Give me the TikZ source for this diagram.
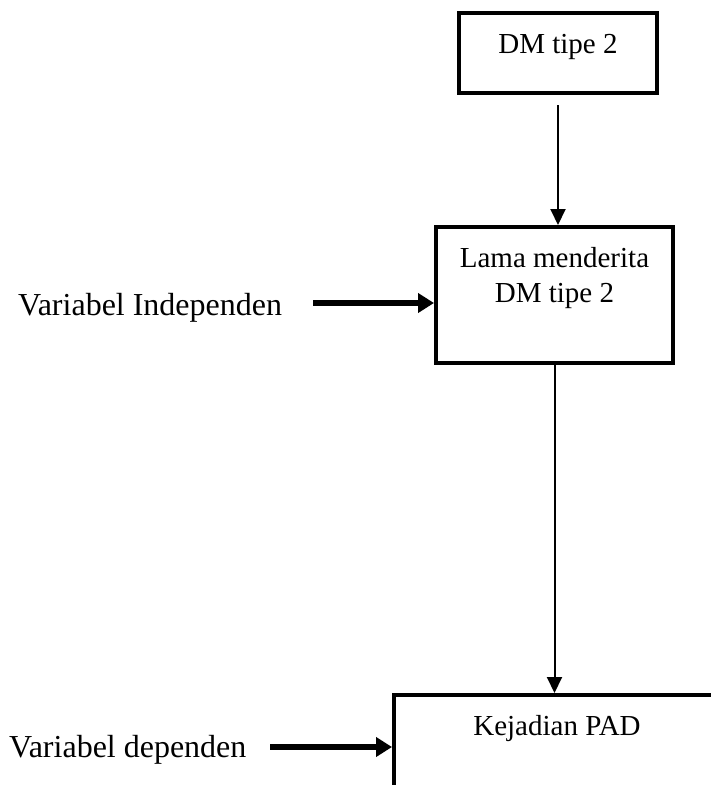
\documentclass[tikz,border=0pt]{standalone}
\usepackage{fontspec}
\setmainfont{Liberation Serif}
\usetikzlibrary{arrows.meta,positioning}

\tikzset{
	box/.style={draw, line width=4pt, rectangle, inner sep=0pt},
	boxtext/.style={font=\fontsize{29}{35}\selectfont, align=center, inner sep=0pt},
	vartext/.style={font=\fontsize{32}{38}\selectfont, inner sep=0pt},
	flow/.style={line width=2pt, -{Triangle[length=16pt,width=15pt]}},
	bigflow/.style={line width=6pt, -{Triangle[length=16pt,width=19pt]}},
}

\begin{document}
\begin{tikzpicture}[x=1pt,y=-1pt]
	\clip (0,0) rectangle (711,785);

	\node[box, minimum width=198, minimum height=80] (dm) at (558,53) {};
	\node[box, minimum width=237, minimum height=136] (mid) at (554.5,295) {};
	\node[box, anchor=north west, minimum width=500, minimum height=200] (pad) at (392,693) {};

	\node[boxtext, anchor=base] (dmtxt) at (558,53) {DM tipe 2};
	\node[boxtext, anchor=north] (midtxt) at (554.5,247) {Lama menderita\\DM tipe 2};
	\node[boxtext, anchor=base] (padtxt) at (557,735) {Kejadian PAD};

	\node[vartext, anchor=base west] (indep) at (18,315) {Variabel Independen};
	\node[vartext, anchor=base west] (dep) at (9,757) {Variabel dependen};

	\coordinate (inarr) at (313,303);
	\coordinate (outarr) at (270,747);

	\draw[flow] ([yshift=-10pt]dm.south) -- (dm.south |- mid.north);
	\draw[flow] (mid.south) -- (mid.south |- pad.north);
	\draw[bigflow] (inarr) -- (inarr -| mid.west);
	\draw[bigflow] (outarr) -- (outarr -| pad.west);
\end{tikzpicture}
\end{document}
